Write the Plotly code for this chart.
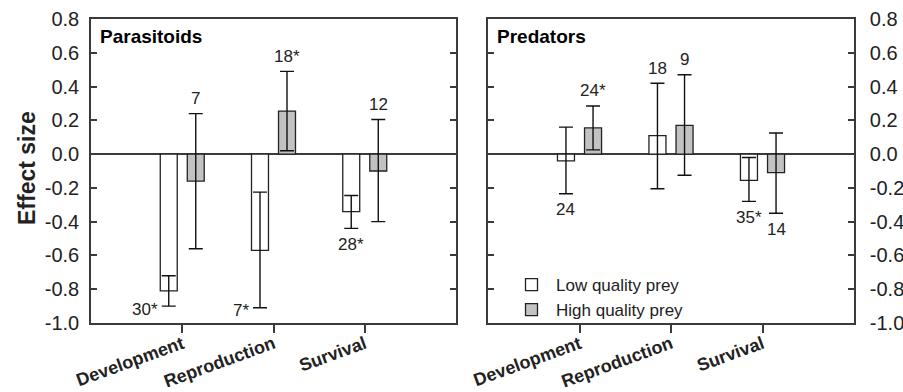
import plotly.graph_objects as go

# ---------------- data ----------------
categories = ["Development", "Reproduction", "Survival"]

par_low_mean = [-0.81, -0.57, -0.34]
par_low_upper = [-0.72, -0.225, -0.245]
par_low_lower = [-0.90, -0.91, -0.44]
par_low_n = ["30*", "7*", "28*"]
par_low_pos = ["left", "left", "below"]

par_high_mean = [-0.16, 0.255, -0.10]
par_high_upper = [0.24, 0.49, 0.205]
par_high_lower = [-0.56, 0.02, -0.40]
par_high_n = ["7", "18*", "12"]
par_high_pos = ["above", "above", "above"]

pred_low_mean = [-0.04, 0.11, -0.155]
pred_low_upper = [0.16, 0.42, -0.02]
pred_low_lower = [-0.235, -0.205, -0.28]
pred_low_n = ["24", "18", "35*"]
pred_low_pos = ["below", "above", "below"]

pred_high_mean = [0.155, 0.17, -0.11]
pred_high_upper = [0.285, 0.47, 0.125]
pred_high_lower = [0.025, -0.125, -0.35]
pred_high_n = ["24*", "9", "14"]
pred_high_pos = ["above", "above", "below"]

y_tick_vals = [0.8, 0.6, 0.4, 0.2, 0.0, -0.2, -0.4, -0.6, -0.8, -1.0]
y_tick_text = ["0.8", "0.6", "0.4", "0.2", "0.0", "-0.2", "-0.4", "-0.6", "-0.8", "-1.0"]

panel_titles = ["Parasitoids", "Predators"]
series_names = ["Low quality prey", "High quality prey"]

# ---------------- styling ----------------
FONT = "Liberation Sans, Arial, sans-serif"
LINE = "#3a3a3a"
LOW_FILL = "white"
HIGH_FILL = "#c2c2c2"
BAR_W = 0.186
HALF_SEP = 0.148
CAP = 7

W, H = 903, 392

fig = go.Figure()
annotations = []


def add_series(mean, upper, lower, labels, pos, name, fill, side, xref, yref, showlegend):
    center = side * HALF_SEP
    fig.add_trace(go.Bar(
        x=categories, y=mean, name=name,
        width=[BAR_W] * len(mean), offset=[center - BAR_W / 2] * len(mean),
        marker=dict(color=fill, line=dict(color="#222222", width=1.3)),
        error_y=dict(type="data", symmetric=False,
                     array=[u - m for u, m in zip(upper, mean)],
                     arrayminus=[m - l for m, l in zip(mean, lower)],
                     color="#111111", thickness=1.4, width=CAP),
        xaxis=xref, yaxis=yref, showlegend=showlegend, hoverinfo="skip",
    ))
    for i, (lab, p) in enumerate(zip(labels, pos)):
        a = dict(text=lab, x=i + center, xref=xref, yref=yref, showarrow=False,
                 font=dict(family=FONT, size=17, color="#222222"))
        if p == "above":
            a.update(y=upper[i], yanchor="middle", yshift=15)
        elif p == "below":
            a.update(y=lower[i], yanchor="middle", yshift=-16)
        else:
            a.update(y=lower[i], xanchor="right", yanchor="middle", xshift=-(CAP + 2), yshift=-3)
        annotations.append(a)


add_series(par_low_mean, par_low_upper, par_low_lower, par_low_n, par_low_pos,
           series_names[0], LOW_FILL, -1, "x", "y", True)
add_series(par_high_mean, par_high_upper, par_high_lower, par_high_n, par_high_pos,
           series_names[1], HIGH_FILL, 1, "x", "y", True)
add_series(pred_low_mean, pred_low_upper, pred_low_lower, pred_low_n, pred_low_pos,
           series_names[0], LOW_FILL, -1, "x2", "y2", False)
add_series(pred_high_mean, pred_high_upper, pred_high_lower, pred_high_n, pred_high_pos,
           series_names[1], HIGH_FILL, 1, "x2", "y2", False)

# panel titles
for t, xr in zip(panel_titles, ["x domain", "x2 domain"]):
    annotations.append(dict(text="<b>%s</b>" % t, x=0.02, y=1 - 36 / H, xref=xr, yref="paper",
                            xanchor="left", yanchor="middle", showarrow=False,
                            font=dict(family=FONT, size=19, color="black")))

# y title
annotations.append(dict(text="<b>Effect size</b>", x=27 / W, y=1 - 168 / H,
                        xref="paper", yref="paper",
                        textangle=-90, showarrow=False, xanchor="center", yanchor="middle",
                        font=dict(family=FONT, size=23, color="#222222")))

xaxis_common = dict(type="category", range=[-1, 3], showline=True, linecolor=LINE, linewidth=1.6,
                    mirror=True, ticks="outside", ticklen=8, tickwidth=1.5, tickcolor=LINE,
                    tickangle=-20, showgrid=False, zeroline=False, automargin=False,
                    ticklabelstandoff=-6,
                    tickfont=dict(family=FONT, size=18, color="#222222"),
                    tickprefix="<b>", ticksuffix="</b>")
yaxis_common = dict(range=[-1.0, 0.8], tickvals=y_tick_vals, ticktext=y_tick_text,
                    showline=True, linecolor=LINE, linewidth=1.6, mirror="ticks",
                    ticks="inside", ticklen=6, tickwidth=1.5, tickcolor=LINE,
                    showgrid=False, zeroline=True, zerolinecolor=LINE, zerolinewidth=1.5,
                    automargin=False,
                    tickfont=dict(family=FONT, size=20, color="#222222"))

ydom = [(H - 323) / H, (H - 19) / H]

fig.update_layout(
    width=W, height=H,
    margin=dict(l=0, r=0, t=0, b=0),
    paper_bgcolor="white", plot_bgcolor="white",
    barmode="overlay",
    xaxis=dict(domain=[91 / W, 456 / W], anchor="y", **xaxis_common),
    xaxis2=dict(domain=[488 / W, 854 / W], anchor="y2", **xaxis_common),
    yaxis=dict(domain=ydom, anchor="x", side="left", ticklabelstandoff=6, **yaxis_common),
    yaxis2=dict(domain=ydom, anchor="x2", side="right", ticklabelstandoff=10, **yaxis_common),
    legend=dict(x=507 / W, y=1 - 267 / H, xanchor="left", yanchor="top",
                bgcolor="rgba(0,0,0,0)", itemwidth=39, tracegroupgap=0,
                font=dict(family=FONT, size=17, color="#222222")),
    annotations=annotations,
    showlegend=True,
)

# remove the page's default 8px body margin so the figure fills the window exactly
fig.write_html("out.html", config={"displayModeBar": False},
               post_script="document.body.style.margin='0';document.body.style.overflow='hidden';")
